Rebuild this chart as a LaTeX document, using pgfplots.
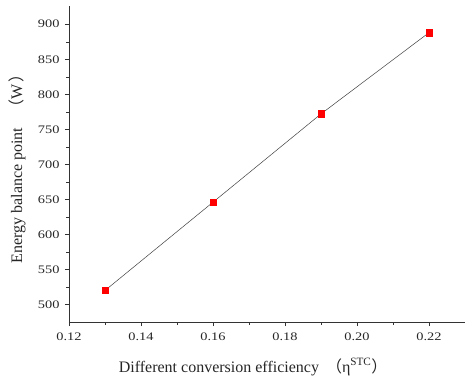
\documentclass[border=0pt]{standalone}
\usepackage{fontspec}
\setmainfont{Liberation Serif}
\newfontfamily\tickfont[FakeStretch=1.25]{Liberation Serif}
\newfontfamily\cjk{Noto Sans CJK SC}
\usepackage{pgfplots}
\pgfplotsset{compat=1.18}
\begin{document}
\begin{tikzpicture}
\begin{axis}[
  scale only axis,
  width=396pt, height=316pt,
  xmin=0.12, xmax=0.23,
  ymin=475, ymax=926,
  axis lines=left,
  axis line style={-, black!80},
  xtick={0.12,0.14,0.16,0.18,0.20,0.22},
  xticklabels={0.12,0.14,0.16,0.18,0.20,0.22},
  ytick={500,550,...,900},
  minor tick num=1,
  tick align=outside,
  major tick length=4pt,
  minor tick length=2.5pt,
  tick style={black!80},
  /pgf/number format/assume math mode=true,
  ticklabel style={font=\tickfont\fontsize{11.5}{13}\selectfont, text=black!85},
  xticklabel style={yshift=-3pt},
  yticklabel style={xshift=-2pt},
  xlabel={Different conversion efficiency\hspace{7pt}{\cjk （}η\textsuperscript{STC}{\cjk ）}},
  ylabel={Energy balance point\hspace{12pt}{\cjk （}W\hspace{2pt}{\cjk ）}},
  label style={font=\fontsize{16}{18}\selectfont, text=black!85},
  xlabel style={at={(rel axis cs:0.465,-0.1424)}, anchor=center},
  ylabel style={at={(rel axis cs:-0.131,0.497)}, anchor=center},
  clip=false,
]
\addplot[black!75, line width=0.5pt, mark=square*, mark size=3.2pt,
  mark options={red, fill=red, draw=red}]
  coordinates {(0.13,520) (0.16,646) (0.19,772) (0.22,888)};
\coordinate (bl) at (rel axis cs:-0.1742,-0.1772);
\coordinate (tr) at (rel axis cs:1,1.019);
\end{axis}
\pgfresetboundingbox
\path (bl) rectangle (tr);
\end{tikzpicture}
\end{document}
